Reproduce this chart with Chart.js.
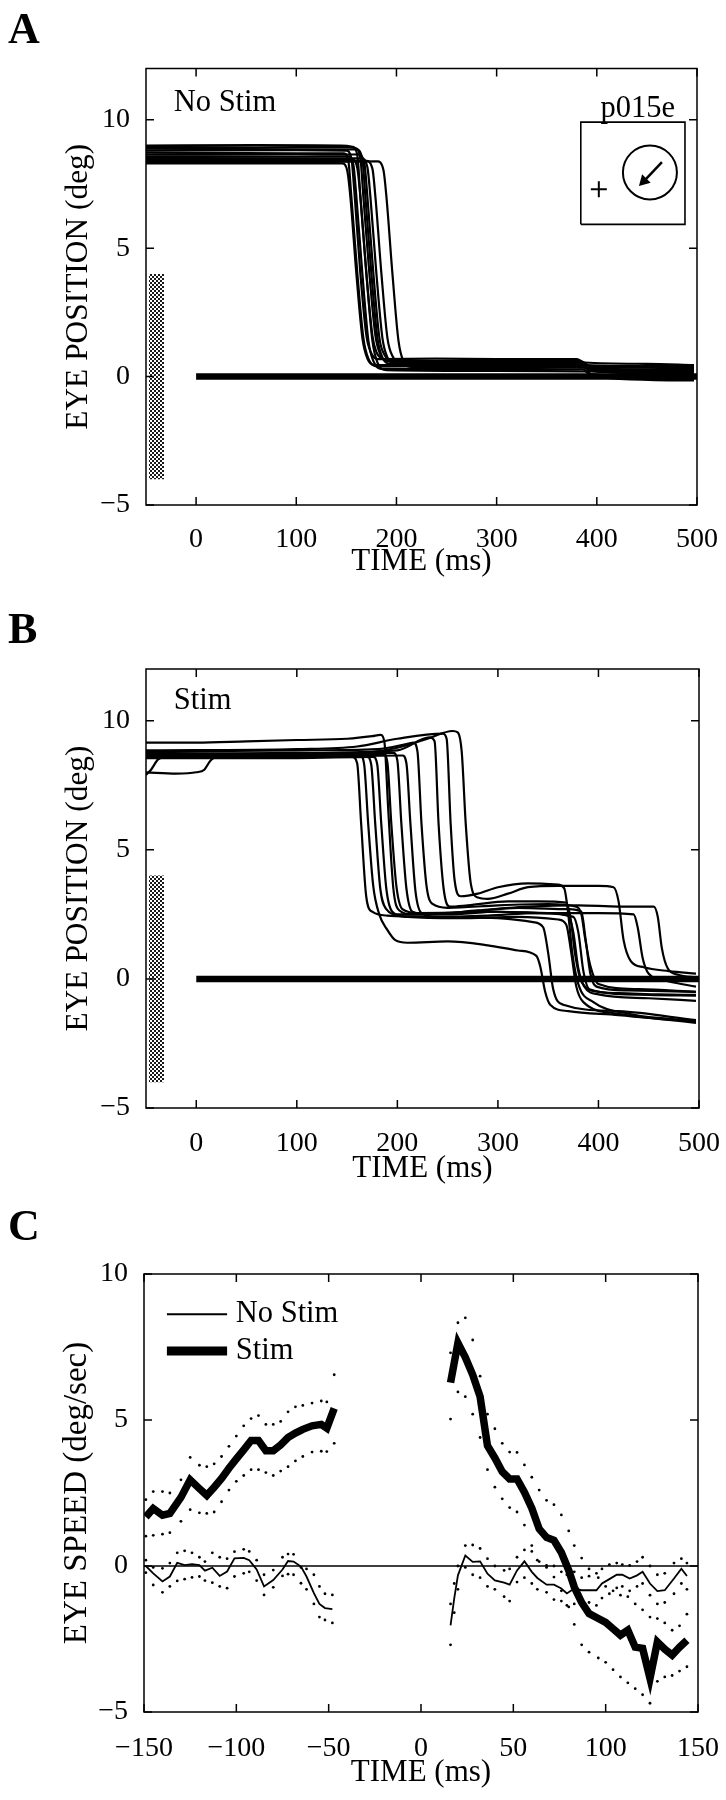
<!DOCTYPE html>
<html>
<head>
<meta charset="utf-8">
<title>Eye position and eye speed</title>
<script src="https://cdn.jsdelivr.net/npm/chart.js@4.4.0/dist/chart.umd.min.js"></script>
<style>
  html, body { margin: 0; padding: 0; background: #fff; }
  #page { position: relative; width: 726px; height: 1800px; }
  .panel { position: absolute; left: 0; width: 726px; height: 600px; }
  .letter { position: absolute; left: 8px; font: bold 44px "Liberation Serif", serif; line-height: 44px; color: #000; }
</style>
</head>
<body>
<div id="page">
  <canvas id="chartA" class="panel" style="top:0" width="726" height="600"></canvas>
  <canvas id="chartB" class="panel" style="top:600px" width="726" height="600"></canvas>
  <canvas id="chartC" class="panel" style="top:1200px" width="726" height="600"></canvas>
  <div class="letter" style="top:7px">A</div>
  <div class="letter" style="top:607px">B</div>
  <div class="letter" style="top:1204px">C</div>
</div>
<script>
// ---------- data ----------
const timeTicksAB = [0, 100, 200, 300, 400, 500];
const posTicks = [-5, 0, 5, 10];
const timeTicksC = [-150, -100, -50, 0, 50, 100, 150];
const speedTicks = [-5, 0, 5, 10];

// panel A: eye position traces, no stimulation  [time ms, deg]
const noStimTraces = [
  [[-50,9.0],[60,9.02],[145,9.0],[156,8.95],[161,8.6],[164,7.0],[170,4.0],[176,1.6],[180,0.95],[186,0.7],[200,0.62],[260,0.6],[330,0.62],[382,0.62],[390,0.45],[440,0.42],[497,0.4]],
  [[-50,8.95],[60,8.93],[150,8.95],[159,8.9],[164,8.5],[167,7.0],[173,4.0],[179,1.6],[184,0.85],[190,0.6],[210,0.55],[300,0.55],[384,0.56],[392,0.4],[450,0.35],[497,0.3]],
  [[-50,8.88],[100,8.85],[160,8.85],[166,8.45],[169,7.0],[175,4.0],[181,1.5],[186,0.75],[193,0.5],[250,0.48],[350,0.5],[385,0.48],[393,0.3],[497,0.22]],
  [[-50,8.8],[100,8.82],[150,8.8],[155,8.5],[158,7.2],[164,4.0],[170,1.6],[175,0.9],[182,0.68],[240,0.7],[300,0.68],[380,0.68],[388,0.55],[450,0.5],[497,0.45]],
  [[-50,8.72],[100,8.7],[147,8.7],[152,8.4],[155,7.0],[161,4.0],[167,1.5],[172,0.7],[180,0.4],[250,0.42],[330,0.4],[386,0.38],[394,0.2],[497,0.1]],
  [[-50,8.65],[100,8.66],[162,8.65],[168,8.3],[171,7.0],[177,4.0],[183,1.5],[188,0.85],[196,0.62],[260,0.6],[385,0.58],[393,0.42],[497,0.35]],
  [[-50,8.58],[100,8.57],[152,8.58],[157,8.25],[160,7.0],[166,4.0],[172,1.4],[177,0.6],[186,0.3],[280,0.3],[386,0.28],[394,0.1],[497,0.0]],
  [[-50,8.52],[100,8.5],[165,8.5],[171,8.15],[174,7.0],[180,4.0],[186,1.5],[191,0.75],[199,0.5],[300,0.5],[386,0.48],[394,0.25],[497,0.15]],
  [[-50,8.45],[100,8.46],[156,8.45],[161,8.1],[164,7.0],[170,4.0],[176,1.4],[181,0.55],[190,0.25],[300,0.22],[388,0.2],[396,0.0],[497,-0.1]],
  [[-50,8.4],[100,8.42],[170,8.4],[176,8.1],[179,7.0],[185,4.0],[191,1.5],[196,0.8],[204,0.55],[300,0.55],[384,0.55],[392,0.35],[497,0.25]],
  [[-50,8.35],[100,8.35],[181,8.38],[187,8.05],[190,7.0],[196,4.0],[202,1.4],[207,0.6],[215,0.38],[300,0.38],[388,0.35],[396,0.0],[497,-0.15]],
  [[-50,8.3],[100,8.3],[146,8.3],[151,8.0],[154,7.0],[160,4.0],[166,1.5],[171,0.7],[178,0.45],[260,0.45],[387,0.45],[395,0.25],[497,0.2]]
];

// panel B: eye position traces with stimulation  [time ms, deg]
const stimTraces = [
  [[-50,9.15],[0,9.15],[50,9.2],[100,9.25],[150,9.3],[175,9.4],[183,9.45],[187,9.2],[191,6.5],[196,3.5],[202,2.65],[215,2.5],[260,2.55],[300,2.6],[340,2.55],[375,2.4],[380,1.8],[385,0.3],[391,-0.4],[420,-0.55],[460,-0.6],[497,-0.62]],
  [[-50,8.6],[50,8.65],[150,8.7],[200,8.95],[230,9.3],[255,9.6],[260,9.55],[264,8.8],[268,6],[273,3.7],[280,3.15],[290,3.1],[310,3.3],[330,3.55],[360,3.6],[400,3.6],[415,3.55],[420,3.0],[425,1.5],[432,0.7],[445,0.45],[470,0.3],[497,0.2]],
  [[-50,8.0],[-20,7.95],[0,8.0],[8,8.1],[14,8.45],[20,8.6],[100,8.6],[155,8.6],[160,8.35],[164,6],[169,3.2],[175,2.6],[190,2.45],[250,2.4],[300,2.35],[335,2.2],[345,2.0],[350,1.0],[355,-0.4],[365,-1.0],[420,-1.25],[497,-1.6]],
  [[-50,8.75],[100,8.7],[163,8.65],[167,8.3],[171,6],[176,3.6],[182,2.5],[190,1.9],[198,1.5],[210,1.4],[250,1.45],[290,1.3],[320,1.1],[338,0.9],[342,0.5],[347,-0.5],[352,-1.0],[370,-1.25],[420,-1.4],[460,-1.55],[497,-1.7]],
  [[-50,7.9],[-45,8.1],[-38,8.5],[-30,8.6],[100,8.6],[170,8.6],[174,8.3],[178,6],[183,3.5],[189,2.7],[200,2.5],[250,2.5],[300,2.6],[350,2.55],[370,2.45],[375,1.8],[380,0.4],[386,-0.3],[400,-0.6],[450,-0.75],[497,-0.85]],
  [[-50,8.55],[100,8.55],[176,8.6],[180,8.3],[184,6],[189,3.5],[195,2.6],[210,2.4],[260,2.35],[320,2.4],[360,2.3],[368,2.1],[373,1.0],[378,-0.3],[385,-0.9],[420,-1.35],[460,-1.55],[497,-1.62]],
  [[-50,8.7],[100,8.7],[186,8.7],[190,8.4],[194,6],[199,3.6],[205,2.7],[220,2.55],[270,2.6],[320,2.75],[370,2.7],[383,2.6],[387,1.6],[392,0.2],[398,-0.3],[430,-0.45],[497,-0.5]],
  [[-50,8.65],[100,8.7],[196,8.75],[200,8.45],[204,6],[209,3.5],[215,2.6],[230,2.5],[280,2.65],[330,2.8],[380,2.85],[420,2.8],[455,2.8],[459,2.4],[463,1.2],[469,0.4],[480,0.15],[497,0.05]],
  [[-50,8.6],[100,8.6],[205,8.65],[209,8.35],[213,6],[218,3.4],[224,2.55],[240,2.4],[290,2.45],[340,2.55],[400,2.55],[435,2.5],[439,2.0],[444,0.8],[450,0.2],[470,-0.1],[497,-0.3]],
  [[-50,8.8],[100,8.85],[180,8.9],[210,9.1],[216,9.15],[220,8.8],[224,6],[229,3.6],[235,2.9],[250,2.75],[300,2.85],[350,2.9],[378,2.8],[383,2.5],[387,1.5],[392,0.5],[400,-0.2],[440,-0.4],[497,-0.5]],
  [[-50,8.7],[100,8.75],[200,8.85],[232,9.35],[237,9.2],[241,6],[246,3.5],[252,2.8],[270,2.85],[310,3.0],[340,3.0],[368,2.95],[372,2.4],[377,0.9],[383,-0.1],[400,-0.5],[450,-0.62],[497,-0.65]],
  [[-50,8.85],[100,8.9],[160,9.0],[200,9.3],[245,9.5],[249,9.3],[253,6],[257,3.8],[263,3.2],[280,3.3],[300,3.55],[330,3.7],[360,3.65],[366,3.5],[370,2.5],[374,1.0],[380,-0.2],[395,-0.9],[430,-1.35],[470,-1.55],[497,-1.65]]
];

const fixLine = [[0, 0], [500, 0]];          // thick bar along 0 deg
const stimBarX = [-47, -32];                  // stippled stimulation bar
const stimBarTop = 4;
const stimBarBottom = -4;

// inset sketch in panel A (data units)
const insetBox = [[384, 5.93], [488, 5.93], [488, 9.91], [384, 9.91], [384, 5.93]];
const insetCross = [[402, 7.3]];
const insetCircle = [[453, 7.95]];
const insetArrow = [[465, 8.35], [448, 7.65]];
const insetHead = [[447, 7.62]];

// panel C: eye speed (deg/sec)
const tStimPre = [-149,-145,-140,-136,-130,-125,-120,-116,-112,-108,-104,-100,-96,-92,-88,-84,-80,-76,-72,-68,-64,-59,-54,-51,-47];
const stimPre   = [1.68,1.97,1.74,1.8,2.35,2.95,2.65,2.42,2.7,3.0,3.35,3.67,3.98,4.3,4.3,3.95,3.95,4.15,4.4,4.55,4.68,4.8,4.85,4.72,5.4];
const stimPreHi = [2.27,2.55,2.55,2.5,2.95,3.72,3.45,3.4,3.5,3.75,4.1,4.45,4.8,5.05,5.15,4.85,4.85,4.95,5.28,5.45,5.5,5.58,5.65,5.62,6.55];
const stimPreLo = [1.02,1.05,1.09,1.14,1.53,1.93,1.82,1.8,1.85,2.2,2.6,2.9,3.1,3.3,3.3,3.2,3.1,3.25,3.4,3.6,3.75,3.9,3.93,3.92,4.2];

const tNoStimPre = [-149,-145,-140,-136,-132,-128,-124,-120,-117,-113,-109,-105,-101,-96,-93,-89,-85,-80,-75,-72,-69,-65,-62,-58,-55,-52,-48];
const noStimPre   = [0,-0.25,-0.53,-0.36,0.11,0.03,0.06,0.03,-0.16,-0.06,-0.34,-0.19,0.26,0.28,0.2,-0.12,-0.7,-0.48,-0.12,0.17,0.15,-0.02,-0.36,-0.93,-1.3,-1.44,-1.48];
const noStimPreHi = [0.2,-0.05,-0.08,0.1,0.45,0.52,0.45,0.3,0.15,0.45,0.3,0.25,0.49,0.57,0.5,0.2,-0.3,-0.14,0.3,0.41,0.4,-0.05,-0.1,-0.3,-0.7,-0.95,-0.99];
const noStimPreLo = [-0.23,-0.65,-0.9,-0.7,-0.51,-0.45,-0.39,-0.36,-0.5,-0.57,-0.7,-0.76,-0.36,-0.25,-0.2,-0.5,-0.99,-0.73,-0.34,-0.28,-0.3,-0.59,-0.8,-1.3,-1.75,-1.85,-1.95];

const tStimPost = [16,20,24,28,32,36,40,44,48,52,56,60,64,68,72,76,80,83,87,91,96,100,104,108,112,116,120,124,128,132,136,140,144];
const stimPost   = [6.28,7.64,7.15,6.55,5.8,4.12,3.7,3.23,2.98,2.98,2.53,1.98,1.27,0.98,0.88,0.46,-0.15,-0.72,-1.25,-1.63,-1.8,-1.93,-2.15,-2.37,-2.2,-2.78,-2.82,-3.85,-2.6,-2.85,-3.05,-2.78,-2.54];
const stimPostHi = [7.3,8.33,8.5,7.74,6.5,5.2,4.7,4.2,3.9,3.89,3.46,3.04,2.6,2.25,2.1,1.75,1.2,0.7,0.27,-0.1,-0.4,-0.7,-0.85,-1.0,-1.05,-1.3,-1.5,-1.75,-1.8,-1.95,-2.2,-2.05,-1.65];
const stimPostLo = [5.03,5.96,5.8,5.2,4.4,3.3,2.7,2.3,2.0,1.85,1.4,0.7,0.15,0.02,-0.38,-0.85,-1.4,-2.0,-2.7,-2.95,-3.15,-3.3,-3.55,-3.8,-4.0,-4.2,-4.41,-4.7,-3.95,-3.8,-3.75,-3.6,-3.45];

const tNoStimPost = [16,18,20,24,28,32,36,40,45,48,52,56,60,63,68,72,76,79,83,87,91,95,98,102,106,109,113,117,120,124,128,132,137,141,144];
const noStimPost   = [-2.03,-1.11,-0.32,0.36,0.14,0.16,-0.26,-0.49,-0.57,-0.64,-0.15,0.16,-0.2,-0.41,-0.64,-0.64,-0.77,-0.94,-0.77,-0.83,-0.83,-0.83,-0.6,-0.45,-0.3,-0.3,-0.43,-0.32,-0.2,-0.6,-0.86,-0.83,-0.43,-0.09,-0.34];
const noStimPostHi = [-1.3,-0.6,0.0,0.7,0.72,0.6,0.25,0.0,-0.15,-0.1,0.3,0.55,0.5,0.2,-0.05,0.0,-0.2,-0.3,-0.2,-0.4,-0.35,-0.25,-0.1,0.05,0.1,0.05,0.02,0.15,0.3,0.0,-0.3,-0.25,0.1,0.25,0.1];
const noStimPostLo = [-2.7,-1.6,-0.8,-0.05,-0.3,-0.4,-0.7,-0.8,-1.05,-1.2,-0.55,-0.4,-0.6,-0.8,-0.9,-1.15,-1.2,-1.35,-1.3,-1.2,-1.25,-1.35,-1.1,-0.95,-0.75,-0.7,-0.85,-0.7,-0.6,-1.0,-1.3,-1.25,-0.95,-0.6,-0.8];

const zeroLineC = [[-150, 0], [150, 0]];

// ---------- helpers ----------
const SERIF = '"Liberation Serif", "Times New Roman", serif';
Chart.defaults.font.family = SERIF;
Chart.defaults.color = '#000';

const pairs = p => p.map(([x, y]) => ({ x, y }));
const zip = (t, v) => t.map((x, i) => ({ x, y: v[i] }));
const minus = v => (v < 0 ? '\u2212' + Math.abs(v) : String(v));

const line = (data, width, extra) => Object.assign({
  data, showLine: true, borderColor: '#000', borderWidth: width,
  pointRadius: 0, pointHoverRadius: 0, fill: false
}, extra || {});
const dots = data => ({
  data, showLine: false, pointRadius: 1.4, pointHoverRadius: 1.4,
  pointBackgroundColor: '#000', pointBorderWidth: 0
});

// stipple pattern for the stimulation bar
const stipple = (() => {
  const c = document.createElement('canvas');
  c.width = 4; c.height = 4;
  const g = c.getContext('2d');
  g.fillStyle = '#1a1a1a';
  g.fillRect(0, 0, 2, 2);
  g.fillRect(2, 2, 2, 2);
  return g.createPattern(c, 'repeat');
})();

// box frame with inward ticks on all four sides, plus in-plot notes
function boxAxes(notes, legend) {
  return {
    id: 'boxAxes',
    afterDatasetsDraw(chart) {
      const { ctx, chartArea: a, scales: { x, y } } = chart;
      ctx.save();
      ctx.strokeStyle = '#000';
      ctx.lineWidth = 1.5;
      ctx.strokeRect(a.left, a.top, a.right - a.left, a.bottom - a.top);
      const len = 8;
      ctx.beginPath();
      x.ticks.forEach(t => {
        const px = x.getPixelForValue(t.value);
        ctx.moveTo(px, a.bottom); ctx.lineTo(px, a.bottom - len);
        ctx.moveTo(px, a.top); ctx.lineTo(px, a.top + len);
      });
      y.ticks.forEach(t => {
        const py = y.getPixelForValue(t.value);
        ctx.moveTo(a.left, py); ctx.lineTo(a.left + len, py);
        ctx.moveTo(a.right, py); ctx.lineTo(a.right - len, py);
      });
      ctx.stroke();

      ctx.fillStyle = '#000';
      ctx.textBaseline = 'alphabetic';
      notes.forEach(n => {
        ctx.font = '30.5px ' + SERIF;
        ctx.textAlign = n.align || 'left';
        ctx.fillText(n.text, x.getPixelForValue(n.x), y.getPixelForValue(n.y));
      });

      if (legend) {
        legend.items.forEach(it => {
          const py = y.getPixelForValue(it.y);
          ctx.lineWidth = it.width;
          ctx.lineCap = 'butt';
          ctx.beginPath();
          ctx.moveTo(x.getPixelForValue(legend.x0), py);
          ctx.lineTo(x.getPixelForValue(legend.x1), py);
          ctx.stroke();
          ctx.font = '30.5px ' + SERIF;
          ctx.textAlign = 'left';
          ctx.textBaseline = 'middle';
          ctx.fillText(it.label, x.getPixelForValue(legend.xText), py);
        });
      }
      ctx.restore();
    }
  };
}

function axesOptions(cfg) {
  return {
    responsive: false,
    animation: false,
    devicePixelRatio: 1,
    events: [],
    layout: { padding: cfg.padding },
    plugins: { legend: { display: false }, tooltip: { enabled: false } },
    scales: {
      x: {
        type: 'linear', min: cfg.xMin, max: cfg.xMax,
        afterBuildTicks: s => { s.ticks = cfg.xTicks.map(v => ({ value: v })); },
        afterFit: s => { s.height = cfg.xHeight; s.paddingLeft = 0; s.paddingRight = 0; },
        grid: { display: false }, border: { display: false },
        ticks: { color: '#000', font: { size: 28 }, padding: cfg.xTickPad, callback: minus, maxRotation: 0, autoSkip: false },
        title: { display: true, text: 'TIME (ms)', color: '#000', font: { size: 31 }, padding: { top: 0, bottom: cfg.xTitlePad } }
      },
      y: {
        type: 'linear', min: cfg.yMin, max: cfg.yMax,
        afterBuildTicks: s => { s.ticks = cfg.yTicks.map(v => ({ value: v })); },
        afterFit: s => { s.width = cfg.yWidth; s.paddingTop = 0; s.paddingBottom = 0; },
        grid: { display: false }, border: { display: false },
        ticks: { color: '#000', font: { size: 28 }, padding: 8, callback: minus, autoSkip: false },
        title: { display: true, text: cfg.yTitle, color: '#000', font: { size: cfg.yTitleSize }, padding: { top: cfg.yTitlePad, bottom: 0 } }
      }
    }
  };
}

function positionDatasets(traces) {
  const sets = [];
  sets.push(line([{ x: stimBarX[0], y: stimBarTop }, { x: stimBarX[1], y: stimBarTop }], 0, {
    borderColor: 'transparent', backgroundColor: stipple, fill: { value: stimBarBottom }
  }));
  traces.forEach(tr => sets.push(line(pairs(tr), 2.2, { cubicInterpolationMode: 'monotone' })));
  sets.push(line(pairs(fixLine), 6.5));
  return sets;
}

// ---------- panel A ----------
const dataA = positionDatasets(noStimTraces).concat([
  line(pairs(insetBox), 1.6),
  { data: pairs(insetCross), showLine: false, pointStyle: 'cross', pointRadius: 8, pointBorderWidth: 2, pointBorderColor: '#000' },
  { data: pairs(insetCircle), showLine: false, pointStyle: 'circle', pointRadius: 27, pointBorderWidth: 2, pointBorderColor: '#000', pointBackgroundColor: 'rgba(0,0,0,0)' },
  line(pairs(insetArrow), 2.5),
  { data: pairs(insetHead), showLine: false, pointStyle: 'triangle', pointRadius: 7, pointRotation: 225, rotation: 225, pointBorderWidth: 0, pointBackgroundColor: '#000' }
]);

new Chart(document.getElementById('chartA'), {
  type: 'scatter',
  data: { datasets: dataA },
  options: axesOptions({
    padding: { left: 0, right: 27, top: 68.5, bottom: 0 },
    xMin: -50, xMax: 500, yMin: -5, yMax: 12,
    xTicks: timeTicksAB, yTicks: posTicks,
    xHeight: 95, yWidth: 146, xTickPad: 10.2, xTitlePad: 19.4,
    yTitle: 'EYE POSITION (deg)', yTitleSize: 31.4, yTitlePad: 60.2
  }),
  plugins: [boxAxes([
    { text: 'No Stim', x: -22.3, y: 10.36 },
    { text: 'p015e', x: 441, y: 10.13, align: 'center' }
  ])]
});

// ---------- panel B ----------
new Chart(document.getElementById('chartB'), {
  type: 'scatter',
  data: { datasets: positionDatasets(stimTraces) },
  options: axesOptions({
    padding: { left: 0, right: 27, top: 69, bottom: 0 },
    xMin: -50, xMax: 500, yMin: -5, yMax: 12,
    xTicks: timeTicksAB, yTicks: posTicks,
    xHeight: 92, yWidth: 146, xTickPad: 11.2, xTitlePad: 12.4,
    yTitle: 'EYE POSITION (deg)', yTitleSize: 31.4, yTitlePad: 60.2
  }),
  plugins: [boxAxes([{ text: 'Stim', x: -22.3, y: 10.44 }])]
});

// ---------- panel C ----------
new Chart(document.getElementById('chartC'), {
  type: 'scatter',
  data: {
    datasets: [
      line(pairs(zeroLineC), 1.7),
      dots(zip(tNoStimPre, noStimPreHi)), dots(zip(tNoStimPre, noStimPreLo)),
      dots(zip(tNoStimPost, noStimPostHi)), dots(zip(tNoStimPost, noStimPostLo)),
      dots(zip(tStimPre, stimPreHi)), dots(zip(tStimPre, stimPreLo)),
      dots(zip(tStimPost, stimPostHi)), dots(zip(tStimPost, stimPostLo)),
      line(zip(tNoStimPre, noStimPre), 1.8),
      line(zip(tNoStimPost, noStimPost), 1.8),
      line(zip(tStimPre, stimPre), 7.5, { borderJoinStyle: 'miter' }),
      line(zip(tStimPost, stimPost), 7.5, { borderJoinStyle: 'miter' })
    ]
  },
  options: axesOptions({
    padding: { left: 0, right: 28, top: 74, bottom: 0 },
    xMin: -150, xMax: 150, yMin: -5, yMax: 10,
    xTicks: timeTicksC, yTicks: speedTicks,
    xHeight: 88, yWidth: 144, xTickPad: 12.2, xTitlePad: 8.4,
    yTitle: 'EYE SPEED (deg/sec)', yTitleSize: 33, yTitlePad: 57.2
  }),
  plugins: [boxAxes([], {
    x0: -137.6, x1: -105, xText: -100.3,
    items: [{ label: 'No Stim', y: 8.62, width: 2 }, { label: 'Stim', y: 7.36, width: 9 }]
  })]
});
</script>
</body>
</html>
